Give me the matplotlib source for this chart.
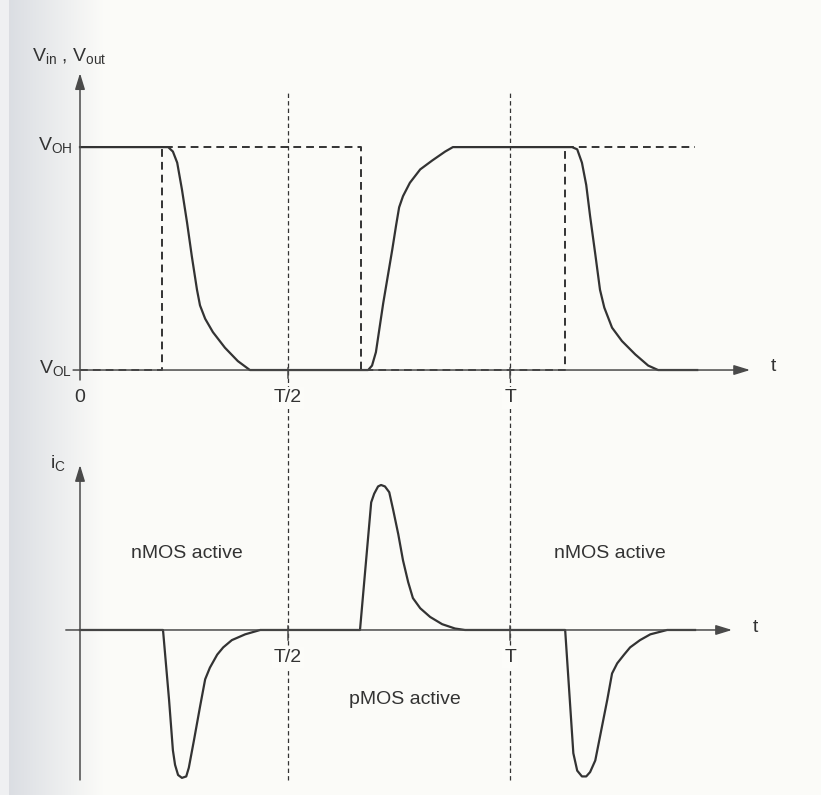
import numpy as np
import matplotlib
matplotlib.use('Agg')
import matplotlib.pyplot as plt

plt.rcParams['font.family'] = ['Liberation Sans', 'DejaVu Sans']
plt.rcParams['mathtext.default'] = 'regular'

# time axis: T = 10 units, tick positions as drawn in the figure
T_HALF = 4.84
T_FULL = 10.0
tick_pos = [0.0, T_HALF, T_FULL]
tick_lab = ['0', 'T/2', 'T']

# input voltage (dashed square wave), VOL = 0, VOH = 1
vin_t = [0.0, 1.91, 1.91, 6.53, 6.53, 11.28, 11.28, 14.30]
vin_v = [0, 0, 1, 1, 0, 0, 1, 1]

# output voltage (solid)
vout_t = [0.0, 2.05, 2.16, 2.26, 2.37, 2.49, 2.60, 2.72, 2.79, 2.91, 3.09, 3.37, 3.67, 3.95,
          6.70, 6.79, 6.88, 7.05, 7.26, 7.35, 7.42, 7.51, 7.67, 7.91, 8.19, 8.49, 8.67,
          11.44, 11.56, 11.67, 11.77, 11.86, 11.98, 12.09, 12.19, 12.37, 12.60, 12.91, 13.21, 13.44,
          14.35]
vout_v = [1.0, 1.0, 0.98, 0.93, 0.81, 0.66, 0.51, 0.36, 0.29, 0.23, 0.17, 0.10, 0.04, 0.0,
          0.0, 0.02, 0.08, 0.30, 0.54, 0.65, 0.73, 0.78, 0.84, 0.90, 0.94, 0.98, 1.0,
          1.0, 0.99, 0.93, 0.83, 0.69, 0.52, 0.36, 0.28, 0.19, 0.13, 0.07, 0.02, 0.0,
          0.0]

# capacitor current (solid)
ic_t = [0.0, 1.93, 2.07, 2.16, 2.21, 2.28, 2.37, 2.47, 2.53, 2.65, 2.79, 2.91, 3.02, 3.19, 3.33,
        3.53, 3.84, 4.19,
        6.51, 6.77, 6.84, 6.93, 7.00, 7.09, 7.19, 7.28, 7.40, 7.51, 7.63, 7.74, 7.91, 8.14, 8.42,
        8.72, 8.95,
        11.28, 11.47, 11.56, 11.67, 11.77, 11.86, 11.98, 12.12, 12.26, 12.37, 12.49, 12.65, 12.79,
        13.02, 13.26, 13.65, 14.30]
ic_v = [0.0, 0.0, -0.48, -0.83, -0.93, -1.00, -1.02, -1.01, -0.95, -0.76, -0.53, -0.34, -0.26,
        -0.17, -0.12, -0.07, -0.03, 0.0,
        0.0, 0.88, 0.94, 0.99, 1.00, 0.99, 0.95, 0.83, 0.66, 0.48, 0.33, 0.22, 0.15, 0.09, 0.04,
        0.01, 0.0,
        0.0, -0.85, -0.97, -1.01, -1.01, -0.98, -0.90, -0.69, -0.48, -0.30, -0.23, -0.17, -0.12,
        -0.07, -0.03, 0.0, 0.0]

region_lab = ['nMOS active', 'pMOS active', 'nMOS active']
region_t = [2.49, 7.56, 12.33]
region_i = [0.53, -0.48, 0.53]

INK = '#333333'
AXC = '#4a4a4a'
PAPER = '#fcfcf9'
FS = 14

fig = plt.figure(figsize=(8.21, 7.95), dpi=100)
fig.patch.set_facecolor(PAPER)

# scanned page shading at the left edge
bg = fig.add_axes([0, 0, 1, 1], zorder=-10)
bg.axis('off')
xs = np.arange(821)
col0 = np.array([0.86, 0.87, 0.89])
col1 = np.array([0.988, 0.988, 0.976])
f = np.clip((xs - 10) / 95.0, 0, 1)[:, None]
grad = col0 * (1 - f) + col1 * f
grad[xs < 9] = [0.94, 0.945, 0.95]
bg.imshow(grad[None, :, :], aspect='auto', extent=[0, 1, 0, 1])
bg.set_xlim(0, 1)
bg.set_ylim(0, 1)

xlim = (0, 15.81)
ax1 = fig.add_axes([80 / 821, 0.522, 680 / 821, 0.386])
ax2 = fig.add_axes([80 / 821, 0.0189, 680 / 821, 0.3962])
ax1.set_xlim(xlim)
ax1.set_ylim(-0.0448, 1.3318)
ax2.set_xlim(xlim)
ax2.set_ylim(-1.0345, 1.1379)
for ax in (ax1, ax2):
    ax.axis('off')
    ax.patch.set_alpha(0)

arrow = dict(arrowstyle='-|>,head_length=0.65,head_width=0.2', mutation_scale=15,
             lw=1.1, color=AXC, shrinkA=0, shrinkB=0)
lab_box = dict(facecolor=PAPER, edgecolor='none', pad=1.5)

# top panel axes
ax1.annotate('', xy=(0, 1.3318), xytext=(0, -0.0448), arrowprops=arrow)
ax1.annotate('', xy=(15.58, 0), xytext=(-0.16, 0), arrowprops=arrow)
for v in (0, 1):
    ax1.plot([-0.17, 0], [v, v], color=AXC, lw=1.1)
for tp in tick_pos[1:]:
    ax1.plot([tp, tp], [0.01, -0.035], color=AXC, lw=1.1, clip_on=False)

ax1.plot(vin_t, vin_v, color=INK, lw=1.4, dashes=(4, 2.6), clip_on=False)
ax1.plot(vout_t, vout_v, color=INK, lw=1.6, solid_joinstyle='round', clip_on=False)

ax1.text(-0.18, 1.01, 'V$_{OH}$', ha='right', va='center', fontsize=FS, color=INK)
ax1.text(-0.18, 0.01, 'V$_{OL}$', ha='right', va='center', fontsize=FS, color=INK)
ax1.text(-1.12, 1.41, 'V$_{in}$ , V$_{out}$', ha='left', va='center', fontsize=FS, color=INK,
         clip_on=False)
ax1.text(tick_pos[0], -0.125, tick_lab[0], ha='center', va='center', fontsize=FS, color=INK)
for tp, tl in zip(tick_pos[1:], tick_lab[1:]):
    ax1.text(tp, -0.125, tl, ha='center', va='center', fontsize=FS, color=INK,
             bbox=lab_box, zorder=5)
ax1.text(16.12, 0.015, 't', ha='center', va='center', fontsize=FS, color=INK)

# dotted guide lines at T/2 and T through both panels
for tp in tick_pos[1:]:
    ax1.axvline(tp, ymin=-1.303, ymax=0.938, color=INK, lw=0.9, dashes=(3.5, 2.5),
                clip_on=False, zorder=1)

# bottom panel axes
ax2.annotate('', xy=(0, 1.1379), xytext=(0, -1.0345), arrowprops=arrow)
ax2.annotate('', xy=(15.16, 0), xytext=(-0.33, 0), arrowprops=arrow)
for tp in tick_pos[1:]:
    ax2.plot([tp, tp], [0.03, -0.07], color=AXC, lw=1.1)

ax2.plot(ic_t, ic_v, color=INK, lw=1.6, solid_joinstyle='round', clip_on=False)

ax2.text(-0.51, 1.15, 'i$_C$', ha='center', va='center', fontsize=FS, color=INK)
for tp, tl in zip(tick_pos[1:], tick_lab[1:]):
    ax2.text(tp, -0.19, tl, ha='center', va='center', fontsize=FS, color=INK,
             bbox=lab_box, zorder=5)
ax2.text(15.70, 0.02, 't', ha='center', va='center', fontsize=FS, color=INK)
for lab, tx, iy in zip(region_lab, region_t, region_i):
    ax2.text(tx, iy, lab, ha='center', va='center', fontsize=FS, color=INK)

fig.savefig('out.png', dpi=100, facecolor=fig.get_facecolor())
